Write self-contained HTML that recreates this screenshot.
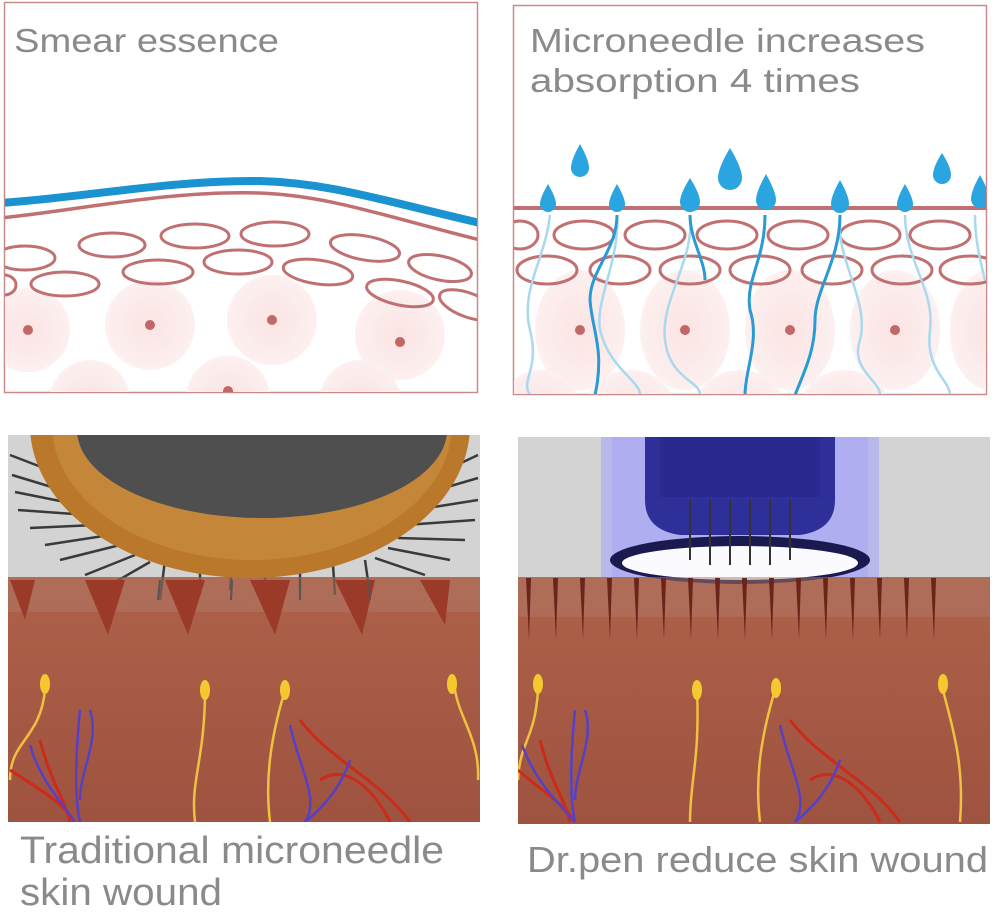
<!DOCTYPE html>
<html><head><style>html,body{margin:0;padding:0;background:#fff}svg{display:block}</style></head>
<body>
<svg width="1000" height="913" viewBox="0 0 1000 913" xmlns="http://www.w3.org/2000/svg" font-family="Liberation Sans, sans-serif">
<defs>
<linearGradient id="skin" x1="0" y1="0" x2="0" y2="1">
<stop offset="0" stop-color="#a85842"/><stop offset="0.3" stop-color="#b0634a"/><stop offset="1" stop-color="#9e5340"/></linearGradient>
<radialGradient id="cell"><stop offset="0" stop-color="#fbe3e3"/><stop offset="1" stop-color="#fdf0f0"/></radialGradient>
<clipPath id="c1"><rect x="5" y="3" width="472" height="389"/></clipPath>
<clipPath id="c2"><rect x="514" y="6" width="472" height="388"/></clipPath>
<clipPath id="c3"><rect x="8" y="435" width="472" height="387"/></clipPath>
<clipPath id="c4"><rect x="518" y="437" width="472" height="387"/></clipPath>
</defs>

<!-- TOP LEFT -->
<rect x="4.5" y="2.5" width="473" height="390" fill="#fff" stroke="#c98a8a" stroke-width="1.5"/>
<g clip-path="url(#c1)">
<g fill="url(#cell)">
<circle cx="28" cy="330" r="42"/><circle cx="150" cy="325" r="45"/><circle cx="272" cy="320" r="45"/><circle cx="400" cy="335" r="45"/>
<circle cx="90" cy="400" r="40"/><circle cx="228" cy="398" r="42"/><circle cx="360" cy="400" r="40"/>
</g>
<g fill="#c06868"><circle cx="28" cy="330" r="5"/><circle cx="150" cy="325" r="5"/><circle cx="272" cy="320" r="5"/><circle cx="400" cy="342" r="5"/><circle cx="228" cy="391" r="5"/></g>
<g fill="none" stroke="#c07070" stroke-width="3">
<ellipse cx="112" cy="245" rx="33" ry="12"/><ellipse cx="195" cy="236" rx="34" ry="12"/><ellipse cx="275" cy="234" rx="34" ry="12"/><ellipse cx="365" cy="248" rx="35" ry="12" transform="rotate(10 365 248)"/><ellipse cx="440" cy="268" rx="32" ry="12" transform="rotate(12 440 268)"/>
<ellipse cx="25" cy="258" rx="30" ry="12"/><ellipse cx="65" cy="284" rx="34" ry="12"/><ellipse cx="158" cy="272" rx="35" ry="12"/><ellipse cx="238" cy="262" rx="34" ry="12"/><ellipse cx="318" cy="272" rx="35" ry="12" transform="rotate(8 318 272)"/><ellipse cx="400" cy="293" rx="34" ry="12" transform="rotate(12 400 293)"/><ellipse cx="468" cy="305" rx="30" ry="12" transform="rotate(20 468 305)"/><ellipse cx="4" cy="285" rx="12" ry="10"/>
</g>
<path d="M0 218 C80 210 170 190 260 193 C330 196 380 215 480 240" fill="none" stroke="#c07070" stroke-width="3.5"/>
<path d="M0 203 C80 198 170 180 260 181 C330 183 380 200 480 223" fill="none" stroke="#1a93d0" stroke-width="8"/>
</g>

<!-- TOP RIGHT -->
<rect x="513.5" y="5.5" width="473" height="389" fill="#fff" stroke="#c98a8a" stroke-width="1.5"/>
<g clip-path="url(#c2)">
<g fill="url(#cell)">
<ellipse cx="580" cy="330" rx="45" ry="60"/><ellipse cx="685" cy="330" rx="45" ry="60"/><ellipse cx="790" cy="330" rx="45" ry="60"/><ellipse cx="895" cy="330" rx="45" ry="60"/><ellipse cx="990" cy="330" rx="40" ry="60"/>
<ellipse cx="630" cy="410" rx="45" ry="40"/><ellipse cx="740" cy="410" rx="45" ry="40"/><ellipse cx="845" cy="410" rx="45" ry="40"/><ellipse cx="540" cy="410" rx="40" ry="40"/>
</g>
<g fill="#c06868"><circle cx="580" cy="330" r="5"/><circle cx="685" cy="330" r="5"/><circle cx="790" cy="330" r="5"/><circle cx="895" cy="330" r="5"/></g>
<g fill="none" stroke="#c07070" stroke-width="3">
<ellipse cx="584" cy="235" rx="30" ry="14"/><ellipse cx="655" cy="235" rx="30" ry="14"/><ellipse cx="727" cy="235" rx="30" ry="14"/><ellipse cx="798" cy="235" rx="30" ry="14"/><ellipse cx="870" cy="235" rx="30" ry="14"/><ellipse cx="940" cy="235" rx="30" ry="14"/><ellipse cx="520" cy="235" rx="18" ry="14"/>
<ellipse cx="547" cy="270" rx="30" ry="14"/><ellipse cx="620" cy="270" rx="30" ry="14"/><ellipse cx="690" cy="270" rx="30" ry="14"/><ellipse cx="760" cy="270" rx="30" ry="14"/><ellipse cx="832" cy="270" rx="30" ry="14"/><ellipse cx="902" cy="270" rx="30" ry="14"/><ellipse cx="970" cy="270" rx="30" ry="14"/>
</g>
<g fill="none" stroke="#a9d8ef" stroke-width="2.5">
<path d="M550 215 C545 260 520 290 530 330 C540 370 520 380 530 395"/>
<path d="M617 215 C620 260 595 300 600 330 C610 370 640 380 640 395"/>
<path d="M690 215 C695 260 660 300 665 340 C670 380 700 380 700 395"/>
<path d="M840 215 C835 260 870 300 860 340 C850 370 880 380 880 395"/>
<path d="M905 215 C905 260 935 290 930 330 C925 370 950 380 950 395"/>
<path d="M975 215 C975 240 980 260 985 280"/>
</g>
<g fill="none" stroke="#2a9ad4" stroke-width="3">
<path d="M617 215 C617 250 590 270 590 300 C592 330 605 350 595 395"/>
<path d="M765 215 C765 260 745 280 750 310 C760 340 745 370 745 395"/>
<path d="M690 215 C690 240 705 260 705 280"/>
<path d="M840 215 C840 260 815 290 815 320 C815 350 805 370 795 395"/>
</g>
<line x1="514" y1="208" x2="986" y2="208" stroke="#c07070" stroke-width="4"/>
<g fill="#2aa5df">
<path d="M548 184 q-8 14 -8 20 a8 8 0 0 0 16 0 q0 -6 -8 -20z"/>
<path d="M617 184 q-8 14 -8 20 a8 8 0 0 0 16 0 q0 -6 -8 -20z"/>
<path d="M690 178 q-10 16 -10 24 a10 10 0 0 0 20 0 q0 -8 -10 -24z"/>
<path d="M766 174 q-10 18 -10 26 a10 10 0 0 0 20 0 q0 -8 -10 -26z"/>
<path d="M840 180 q-9 16 -9 24 a9 9 0 0 0 18 0 q0 -8 -9 -24z"/>
<path d="M905 184 q-8 14 -8 20 a8 8 0 0 0 16 0 q0 -6 -8 -20z"/>
<path d="M980 175 q-9 16 -9 24 a9 9 0 0 0 18 0 q0 -8 -9 -24z"/>
<path d="M580 144 q-9 16 -9 24 a9 9 0 0 0 18 0 q0 -8 -9 -24z"/>
<path d="M730 148 q-12 20 -12 30 a12 12 0 0 0 24 0 q0 -10 -12 -30z"/>
<path d="M942 153 q-9 14 -9 22 a9 9 0 0 0 18 0 q0 -8 -9 -22z"/>
</g>
</g>

<!-- BOTTOM LEFT -->
<g clip-path="url(#c3)">
<rect x="8" y="435" width="472" height="387" fill="url(#skin)"/>
<rect x="8" y="435" width="472" height="142" fill="#d3d3d3"/>
<g stroke="#3a3a3a" stroke-width="2.5">
<line x1="10" y1="455" x2="75" y2="480"/><line x1="12" y1="475" x2="78" y2="495"/><line x1="15" y1="492" x2="80" y2="505"/><line x1="18" y1="510" x2="88" y2="515"/><line x1="30" y1="528" x2="95" y2="525"/><line x1="45" y1="545" x2="110" y2="535"/><line x1="60" y1="560" x2="120" y2="545"/><line x1="85" y1="575" x2="135" y2="555"/><line x1="110" y1="585" x2="150" y2="562"/>
<line x1="478" y1="455" x2="425" y2="480"/><line x1="478" y1="478" x2="420" y2="495"/><line x1="478" y1="500" x2="415" y2="510"/><line x1="475" y1="520" x2="405" y2="525"/><line x1="465" y1="540" x2="398" y2="538"/><line x1="450" y1="560" x2="388" y2="548"/><line x1="425" y1="575" x2="375" y2="558"/>
<line x1="160" y1="600" x2="165" y2="560"/><line x1="200" y1="595" x2="200" y2="565"/><line x1="230" y1="590" x2="232" y2="565"/><line x1="265" y1="595" x2="265" y2="565"/><line x1="300" y1="590" x2="300" y2="565"/><line x1="335" y1="595" x2="333" y2="565"/><line x1="370" y1="595" x2="365" y2="560"/>
</g>
<ellipse cx="250" cy="425" rx="220" ry="153" fill="#b9782a"/>
<ellipse cx="252" cy="425" rx="200" ry="135" fill="#c4873a"/>
<ellipse cx="262" cy="430" rx="185" ry="88" fill="#4f4f4f"/>
<rect x="8" y="577" width="472" height="35" fill="#b07a68" opacity="0.5"/>
<g fill="#9c3a2a">
<path d="M10 580 L35 580 L25 620z"/><path d="M85 580 L125 580 L108 635z"/><path d="M165 580 L205 580 L188 635z"/><path d="M250 580 L290 580 L275 635z"/><path d="M335 580 L375 580 L362 635z"/><path d="M420 580 L450 580 L445 625z"/>
</g>
<g stroke="#555" stroke-width="2"><line x1="160" y1="580" x2="158" y2="600"/><line x1="232" y1="580" x2="231" y2="600"/><line x1="300" y1="580" x2="300" y2="600"/><line x1="368" y1="580" x2="370" y2="600"/></g>
<g fill="none" stroke="#f0c040" stroke-width="2.5">
<path d="M45 690 C40 740 10 740 10 780"/><path d="M205 690 C205 760 190 780 195 822"/><path d="M285 690 C270 740 265 780 270 822"/><path d="M455 690 C460 720 480 740 478 780"/>
</g>
<g fill="#f5c830"><ellipse cx="45" cy="684" rx="5" ry="10"/><ellipse cx="205" cy="690" rx="5" ry="10"/><ellipse cx="285" cy="690" rx="5" ry="10"/><ellipse cx="452" cy="684" rx="5" ry="10"/></g>
<g fill="none" stroke="#cc2a1a" stroke-width="3">
<path d="M10 770 C40 790 60 800 75 822"/><path d="M40 740 C50 780 65 800 70 822"/><path d="M300 720 C330 760 380 780 410 822"/><path d="M320 780 C350 760 380 800 390 822"/>
</g>
<g fill="none" stroke="#5540c8" stroke-width="2.5">
<path d="M30 745 C40 780 60 800 75 822"/><path d="M80 710 C75 760 75 800 80 822"/><path d="M90 710 C100 740 80 770 80 800"/><path d="M290 725 C300 770 320 800 305 822"/><path d="M350 760 C340 790 320 810 305 822"/>
</g>
</g>

<!-- BOTTOM RIGHT -->
<g clip-path="url(#c4)">
<rect x="518" y="437" width="472" height="387" fill="url(#skin)"/>
<rect x="518" y="437" width="472" height="140" fill="#d3d3d3"/>
<rect x="601" y="437" width="278" height="140" fill="#b9b8ea"/>
<rect x="612" y="437" width="256" height="140" fill="#aeaef0"/>
<path d="M645 437 L835 437 L835 500 Q835 530 800 535 L680 535 Q645 530 645 500z" fill="#2f2f9a"/>
<rect x="660" y="437" width="160" height="60" fill="#26268a" opacity="0.6"/>
<ellipse cx="740" cy="560" rx="130" ry="24" fill="#1a1a50"/>
<ellipse cx="740" cy="563" rx="118" ry="17" fill="#fafaff"/>
<g stroke="#333" stroke-width="2">
<line x1="690" y1="500" x2="690" y2="560"/><line x1="710" y1="500" x2="710" y2="565"/><line x1="730" y1="500" x2="730" y2="565"/><line x1="750" y1="500" x2="750" y2="565"/><line x1="770" y1="500" x2="770" y2="565"/><line x1="790" y1="500" x2="790" y2="560"/>
</g>
<rect x="518" y="577" width="472" height="40" fill="#b07a68" opacity="0.5"/>
<g fill="#6a241a">
<path d="M526 578 L531 578 L529 640z"/><path d="M553 578 L558 578 L556 640z"/><path d="M580 578 L585 578 L583 640z"/><path d="M607 578 L612 578 L610 640z"/><path d="M634 578 L639 578 L637 640z"/><path d="M661 578 L666 578 L664 640z"/><path d="M688 578 L693 578 L691 640z"/><path d="M715 578 L720 578 L718 640z"/><path d="M742 578 L747 578 L745 640z"/><path d="M769 578 L774 578 L772 640z"/><path d="M796 578 L801 578 L799 640z"/><path d="M823 578 L828 578 L826 640z"/><path d="M850 578 L855 578 L853 640z"/><path d="M877 578 L882 578 L880 640z"/><path d="M904 578 L909 578 L907 640z"/><path d="M931 578 L936 578 L934 640z"/>
</g>
<g fill="none" stroke="#f0c040" stroke-width="2.5">
<path d="M538 690 C535 740 520 740 518 780"/><path d="M697 690 C700 760 690 780 690 822"/><path d="M775 690 C760 740 755 780 760 822"/><path d="M943 690 C950 720 965 760 960 822"/>
</g>
<g fill="#f5c830"><ellipse cx="538" cy="684" rx="5" ry="10"/><ellipse cx="697" cy="690" rx="5" ry="10"/><ellipse cx="776" cy="688" rx="5" ry="10"/><ellipse cx="943" cy="684" rx="5" ry="10"/></g>
<g fill="none" stroke="#cc2a1a" stroke-width="3">
<path d="M518 770 C540 790 560 800 575 822"/><path d="M540 740 C550 780 565 800 570 822"/><path d="M790 720 C820 760 870 780 900 822"/><path d="M810 780 C840 760 870 800 880 822"/>
</g>
<g fill="none" stroke="#5540c8" stroke-width="2.5">
<path d="M522 745 C535 780 555 800 575 822"/><path d="M575 710 C570 760 570 800 575 822"/><path d="M585 710 C595 740 575 770 575 800"/><path d="M780 725 C790 770 810 800 795 822"/><path d="M840 760 C830 790 810 810 795 822"/>
</g>
</g>

<g fill="#8a8a8a">
<text x="14" y="52" font-size="33" textLength="265" lengthAdjust="spacingAndGlyphs">Smear essence</text>
<text x="530" y="52" font-size="33" textLength="395" lengthAdjust="spacingAndGlyphs">Microneedle increases</text>
<text x="530" y="92" font-size="33" textLength="330" lengthAdjust="spacingAndGlyphs">absorption 4 times</text>
<text x="20" y="863" font-size="38" textLength="424" lengthAdjust="spacingAndGlyphs">Traditional microneedle</text>
<text x="20" y="905" font-size="38" textLength="202" lengthAdjust="spacingAndGlyphs">skin wound</text>
<text x="527" y="872" font-size="36" textLength="461" lengthAdjust="spacingAndGlyphs">Dr.pen reduce skin wound</text>
</g>
</svg>
</body></html>
